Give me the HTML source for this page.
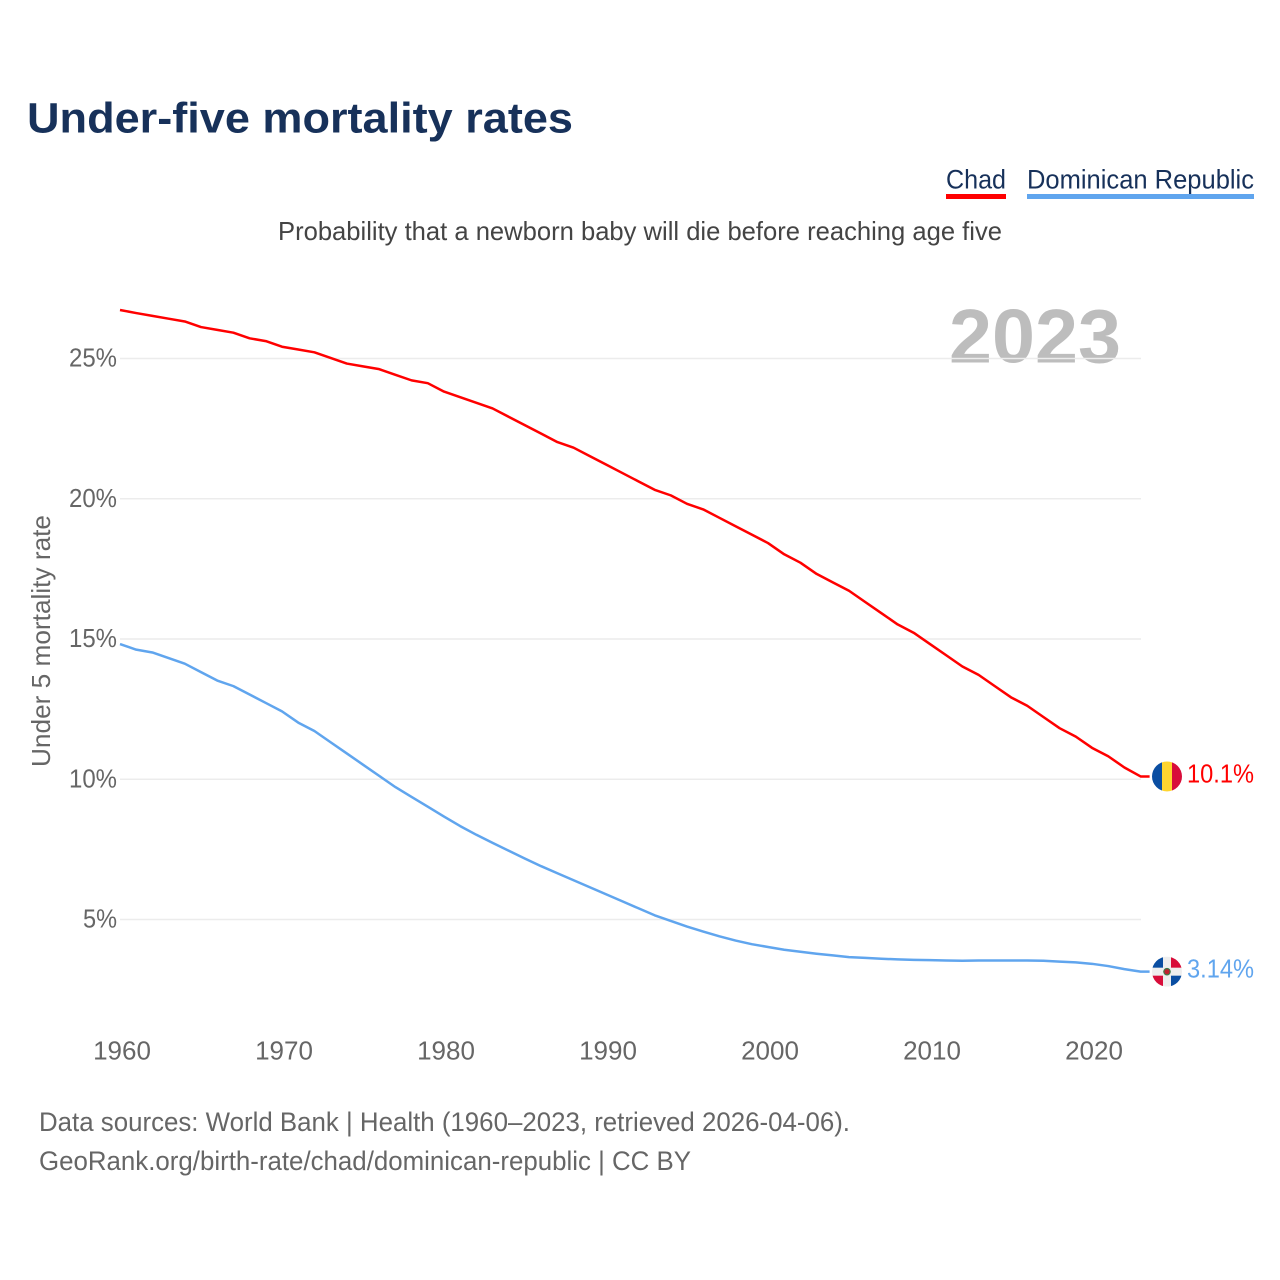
<!DOCTYPE html>
<html lang="en">
<head>
<meta charset="utf-8">
<title>Under-five mortality rates</title>
<style>
html,body{margin:0;padding:0;background:#fff;}
svg{display:block;}
text{font-family:"Liberation Sans",sans-serif;}
</style>
</head>
<body>
<svg id="chart" xmlns="http://www.w3.org/2000/svg" width="1280" height="1280" viewBox="0 0 1280 1280">
  <defs>
    <clipPath id="clip-flag-a"><circle cx="0" cy="0" r="15"/></clipPath>
  </defs>
  <rect x="0" y="0" width="1280" height="1280" fill="#fff"/>
  <text x="27" y="132.5" font-size="43" font-weight="700" fill="#17315a" textLength="546" lengthAdjust="spacingAndGlyphs">Under-five mortality rates</text>

  <g>
    <g>
      <text x="946" y="188.5" font-size="27" fill="#17315a" textLength="60" lengthAdjust="spacingAndGlyphs">Chad</text>
      <rect x="946" y="194" width="60" height="5" fill="#ff0000"/>
    </g>
    <g>
      <text x="1027" y="188.5" font-size="27" fill="#17315a" textLength="227" lengthAdjust="spacingAndGlyphs">Dominican Republic</text>
      <rect x="1027" y="194" width="227" height="5" fill="#60a5ee"/>
    </g>
  </g>

  <text x="278" y="240" font-size="26" fill="#444" textLength="724" lengthAdjust="spacingAndGlyphs">Probability that a newborn baby will die before reaching age five</text>
  <text transform="translate(50,767) rotate(-90)" x="0" y="0" font-size="26" fill="#666" textLength="252" lengthAdjust="spacingAndGlyphs">Under 5 mortality rate</text>
  <text x="949" y="362.5" font-size="76" font-weight="700" fill="#bdbdbd" textLength="172" lengthAdjust="spacingAndGlyphs">2023</text>

  <g id="grid"></g>
  <g id="y-axis"></g>
  <g id="x-axis"></g>
  <g id="series"></g>
  <g id="end-markers"></g>

  <text x="39" y="1131" font-size="27" fill="#666" textLength="811" lengthAdjust="spacingAndGlyphs">Data sources: World Bank | Health (1960–2023, retrieved 2026-04-06).</text>
  <text x="39" y="1170" font-size="27" fill="#666" textLength="652" lengthAdjust="spacingAndGlyphs">GeoRank.org/birth-rate/chad/dominican-republic | CC BY</text>
</svg>
<script>
var years = [];
for (var yr = 1960; yr <= 2023; yr++) { years.push(yr); }
var chadValues = [26.73,26.62,26.52,26.42,26.32,26.12,26.02,25.92,25.72,25.62,25.42,25.32,25.22,25.02,24.82,24.72,24.62,24.42,24.22,24.12,23.82,23.62,23.42,23.22,22.92,22.62,22.32,22.02,21.82,21.52,21.22,20.92,20.62,20.32,20.12,19.82,19.62,19.32,19.02,18.72,18.42,18.02,17.72,17.32,17.02,16.72,16.32,15.92,15.52,15.22,14.82,14.42,14.02,13.72,13.32,12.92,12.62,12.22,11.82,11.52,11.12,10.82,10.42,10.1];
var drValues = [14.82,14.62,14.52,14.32,14.12,13.82,13.52,13.32,13.02,12.72,12.42,12.02,11.72,11.32,10.92,10.52,10.12,9.72,9.37,9.02,8.67,8.33,8.02,7.73,7.45,7.17,6.9,6.65,6.4,6.15,5.9,5.65,5.4,5.15,4.95,4.75,4.57,4.4,4.25,4.12,4.02,3.92,3.85,3.78,3.72,3.66,3.63,3.6,3.58,3.56,3.55,3.54,3.53,3.54,3.54,3.54,3.54,3.53,3.5,3.47,3.42,3.34,3.23,3.14];
var yTickValues = [5,10,15,20,25];
var xTickValues = [1960,1970,1980,1990,2000,2010,2020];
var chadLabel = "10.1%";
var drLabel = "3.14%";

var NS = "http://www.w3.org/2000/svg";
function xScale(year) { return 120 + (year - 1960) * 16.2; }
function yScale(value) { return 1059.75 - value * 28.05; }
function make(tag, attrs, parent) {
  var el = document.createElementNS(NS, tag);
  for (var k in attrs) { el.setAttribute(k, attrs[k]); }
  parent.appendChild(el);
  return el;
}

var gridG = document.getElementById("grid");
var yAxisG = document.getElementById("y-axis");
yTickValues.forEach(function (v) {
  var line = make("line", {x1: 120, x2: 1141, y1: yScale(v), y2: yScale(v), stroke: "#ececec", "stroke-width": 1.5}, gridG);
  
  
  var s = v + "%";
  var t = make("text", {x: 117, y: yScale(v) + 8, "text-anchor": "end", "font-size": 26, fill: "#666", textLength: s.length === 3 ? 48 : 34, lengthAdjust: "spacingAndGlyphs"}, yAxisG);
  t.textContent = s;
  
  
});

var xAxisG = document.getElementById("x-axis");
xTickValues.forEach(function (v) {
  var t = make("text", {x: xScale(v) + 2, y: 1059.5, "text-anchor": "middle", "font-size": 26, fill: "#666"}, xAxisG);
  t.textContent = String(v);
  
  
});

function pathFor(values) {
  var d = "";
  values.forEach(function (v, i) {
    d += (i ? "L" : "M") + xScale(years[i]).toFixed(2) + " " + yScale(v).toFixed(2);
  });
  d += "L" + (xScale(years[years.length - 1]) + 9).toFixed(2) + " " + yScale(values[values.length - 1]).toFixed(2);
  return d;
}
var seriesG = document.getElementById("series");
var drLine = make("path", {d: pathFor(drValues), fill: "none", stroke: "#60a5ee", "stroke-width": 2.5, "stroke-linejoin": "round"}, seriesG);


var chadLine = make("path", {d: pathFor(chadValues), fill: "none", stroke: "#ff0000", "stroke-width": 2.5, "stroke-linejoin": "round"}, seriesG);



var markers = document.getElementById("end-markers");
var lastChadY = yScale(chadValues[chadValues.length - 1]);
var lastDrY = yScale(drValues[drValues.length - 1]);

var chadFlag = make("g", {transform: "translate(1167," + lastChadY + ")", "clip-path": "url(#clip-flag-a)"}, markers);


make("rect", {x: -15, y: -15, width: 10, height: 30, fill: "#0a4ea2"}, chadFlag);
make("rect", {x: -5, y: -15, width: 10, height: 30, fill: "#fed530"}, chadFlag);
make("rect", {x: 5, y: -15, width: 10, height: 30, fill: "#d80d3a"}, chadFlag);

var drFlag = make("g", {transform: "translate(1167," + lastDrY + ")", "clip-path": "url(#clip-flag-a)"}, markers);


make("rect", {x: -15, y: -15, width: 30, height: 30, fill: "#eeeeee"}, drFlag);
make("rect", {x: -15, y: -15, width: 11, height: 11, fill: "#0a4ea2"}, drFlag);
make("rect", {x: 4, y: -15, width: 11, height: 11, fill: "#d80d3a"}, drFlag);
make("rect", {x: -15, y: 4, width: 11, height: 11, fill: "#d80d3a"}, drFlag);
make("rect", {x: 4, y: 4, width: 11, height: 11, fill: "#0a4ea2"}, drFlag);
make("circle", {cx: 0, cy: 0, r: 3.8, fill: "#3f7a4a"}, drFlag);
make("circle", {cx: 0, cy: 0, r: 2.6, fill: "#c0202f"}, drFlag);

var chadText = make("text", {x: 1187, y: lastChadY + 6, "font-size": 26, fill: "#ff0000", textLength: 67, lengthAdjust: "spacingAndGlyphs"}, markers);
chadText.textContent = chadLabel;


var drText = make("text", {x: 1187, y: lastDrY + 6, "font-size": 26, fill: "#60a5ee", textLength: 67, lengthAdjust: "spacingAndGlyphs"}, markers);
drText.textContent = drLabel;


</script>
</body>
</html>
